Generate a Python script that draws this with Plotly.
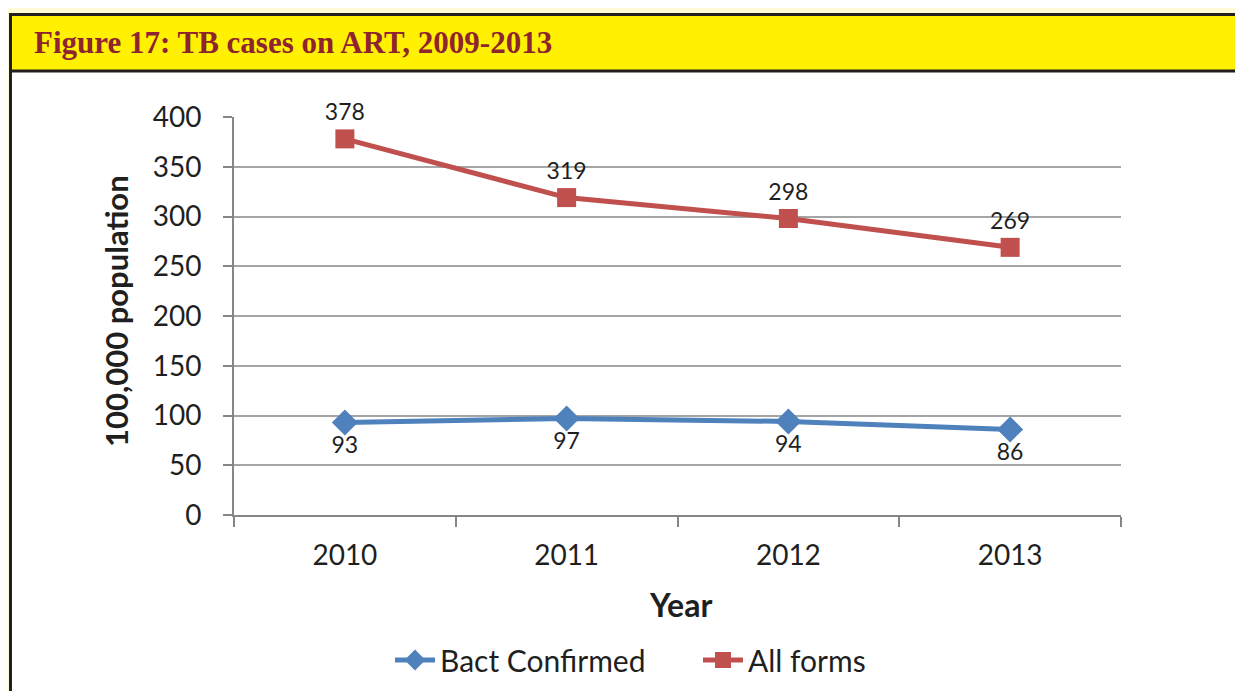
import plotly.graph_objects as go

# page body has an 8px margin; figure sized to fill the rest of the viewport
OFF = 8
W, H = 1243 - OFF, 691 - OFF

years = ["2010", "2011", "2012", "2013"]
bact_confirmed = [93, 97, 94, 86]
all_forms = [378, 319, 298, 269]
y_ticks = [0, 50, 100, 150, 200, 250, 300, 350, 400]

title_text = "Figure 17: TB cases on ART, 2009-2013"
y_title = "100,000 population"
x_title = "Year"

BLUE = "#4F81BD"
RED = "#C0504D"
GRID = "#A5A5A5"
AXIS = "#868686"
TXT = "#1F1F1F"
FONT = "Lato"


def px(x):
    return (x - OFF) / W


def py(y):
    return 1 - (y - OFF) / H


fig = go.Figure()
fig.add_trace(go.Scatter(
    x=years, y=bact_confirmed, name="Bact Confirmed", mode="lines+markers+text",
    line=dict(color=BLUE, width=5),
    marker=dict(symbol="diamond", size=20, color=BLUE),
    text=[str(v) for v in bact_confirmed], textposition="bottom center",
    textfont=dict(family=FONT, size=23, color=TXT), cliponaxis=False,
))
fig.add_trace(go.Scatter(
    x=years, y=all_forms, name="All forms", mode="lines+markers+text",
    line=dict(color=RED, width=5),
    marker=dict(symbol="square", size=19, color=RED),
    text=[str(v) for v in all_forms], textposition="top center",
    textfont=dict(family=FONT, size=23, color=TXT), cliponaxis=False,
))

plot_l, plot_r, plot_t, plot_b = 234, 1121, 117, 515

fig.update_layout(
    width=W, height=H,
    margin=dict(l=0, r=0, t=0, b=0),
    paper_bgcolor="#FFFBD7",
    plot_bgcolor="rgba(0,0,0,0)",
    font=dict(family=FONT, color=TXT),
    showlegend=True,
    legend=dict(
        orientation="h", x=px(698), y=py(660), xanchor="center", yanchor="middle",
        font=dict(family=FONT, size=30, color=TXT), bgcolor="rgba(0,0,0,0)",
        itemwidth=40, traceorder="normal", entrywidth=253, entrywidthmode="pixels",
    ),
    xaxis=dict(
        domain=[px(plot_l), px(plot_r)], type="category", range=[-0.5, 3.5],
        tickson="boundaries", ticks="outside", ticklen=10, tickwidth=2, tickcolor=AXIS,
        showline=True, linecolor=AXIS, linewidth=2, showgrid=False, zeroline=False,
        tickfont=dict(family=FONT, size=28, color=TXT), automargin=False,
        ticklabelstandoff=14,
    ),
    yaxis=dict(
        domain=[py(plot_b), py(plot_t)], range=[0, 400], tickvals=y_ticks,
        ticks="outside", ticklen=9, tickwidth=2, tickcolor=AXIS,
        showline=True, linecolor=AXIS, linewidth=2,
        showgrid=True, gridcolor=GRID, gridwidth=2, zeroline=False,
        tickfont=dict(family=FONT, size=28, color=TXT), automargin=False,
        ticklabelstandoff=16,
    ),
    shapes=[
        dict(type="rect", xref="paper", yref="paper", layer="below",
             x0=px(10.5), x1=1.05, y0=-0.05, y1=py(14.5),
             fillcolor="#FFFFFF", line=dict(color="#231F20", width=3)),
        dict(type="rect", xref="paper", yref="paper", layer="below",
             x0=px(10.5), x1=1.05, y0=py(71), y1=py(14.5),
             fillcolor="#FFF100", line=dict(color="#231F20", width=3)),
    ],
    annotations=[
        dict(text="<b>" + title_text + "</b>", xref="paper", yref="paper",
             x=px(32), y=py(42), xanchor="left", yanchor="middle", showarrow=False,
             font=dict(family="Liberation Serif", size=31, color="#8E2430")),
        dict(text="<b>" + y_title + "</b>", xref="paper", yref="paper",
             x=px(116), y=py(311), xanchor="center", yanchor="middle", showarrow=False,
             textangle=-90, font=dict(family=FONT, size=31, color=TXT)),
        dict(text="<b>" + x_title + "</b>", xref="paper", yref="paper",
             x=px(680), y=py(604), xanchor="center", yanchor="middle", showarrow=False,
             font=dict(family=FONT, size=32, color=TXT)),
    ],
)

fig.write_html("out.html")
